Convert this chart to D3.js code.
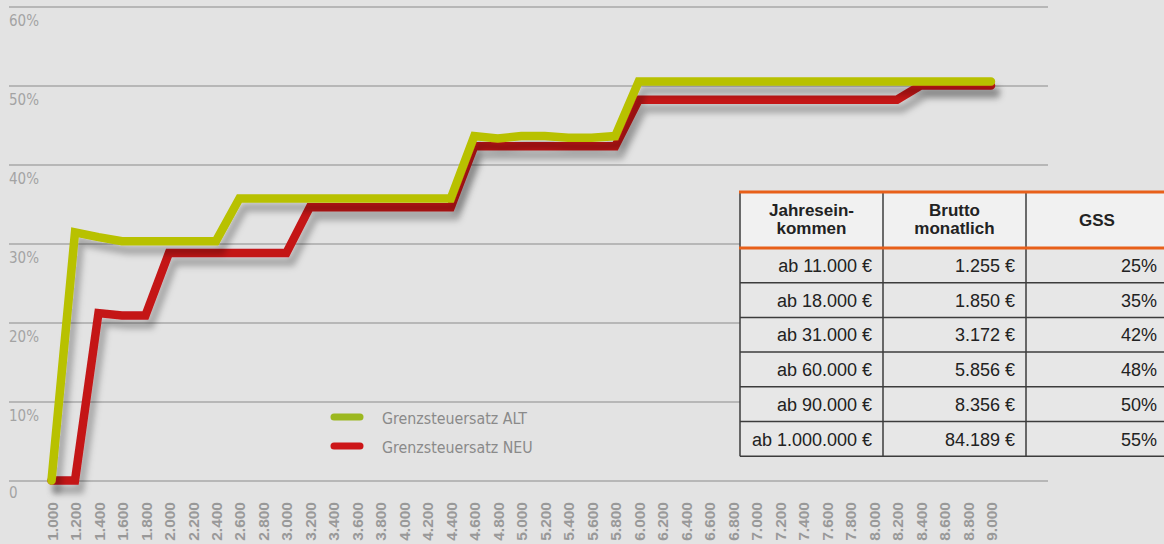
<!DOCTYPE html>
<html>
<head>
<meta charset="utf-8">
<script src="https://cdn.jsdelivr.net/npm/d3@7"></script>
<style>
  body { margin: 0; background: #e3e3e3; overflow: hidden; }
  svg { display: block; }
  .table-text { font-family: "Liberation Sans", Arial, sans-serif; }
</style>
</head>
<body>
<div id="chart"></div>
<script>
/* x-Achse: Brutto monatlich */
const xLabels = ["1.000","1.200","1.400","1.600","1.800","2.000","2.200","2.400","2.600","2.800",
  "3.000","3.200","3.400","3.600","3.800","4.000","4.200","4.400","4.600","4.800",
  "5.000","5.200","5.400","5.600","5.800","6.000","6.200","6.400","6.600","6.800",
  "7.000","7.200","7.400","7.600","7.800","8.000","8.200","8.400","8.600","8.800","9.000"];

/* Grenzsteuersatz in % */
const alt = [0, 31.4, 30.8, 30.3, 30.3, 30.3, 30.3, 30.3, 35.7, 35.7,
  35.7, 35.7, 35.7, 35.7, 35.7, 35.7, 35.7, 35.7, 43.6, 43.3,
  43.6, 43.6, 43.4, 43.4, 43.6, 50.5, 50.5, 50.5, 50.5, 50.5,
  50.5, 50.5, 50.5, 50.5, 50.5, 50.5, 50.5, 50.5, 50.5, 50.5, 50.5];
const neu = [0, 0, 21.2, 20.9, 20.9, 28.8, 28.8, 28.8, 28.8, 28.8,
  28.8, 34.6, 34.6, 34.6, 34.6, 34.6, 34.6, 34.6, 42.3, 42.3,
  42.3, 42.3, 42.3, 42.3, 42.3, 48.2, 48.2, 48.2, 48.2, 48.2,
  48.2, 48.2, 48.2, 48.2, 48.2, 48.2, 48.2, 50.0, 50.0, 50.0, 50.0];

const yTicks = [0, 10, 20, 30, 40, 50, 60];

/* Tabelle */
const tableHead = [["Jahresein-", "kommen"], ["Brutto", "monatlich"], ["GSS"]];
const incomes = ["ab 11.000 €", "ab 18.000 €", "ab 31.000 €", "ab 60.000 €", "ab 90.000 €", "ab 1.000.000 €"];
const gross = ["1.255 €", "1.850 €", "3.172 €", "5.856 €", "8.356 €", "84.189 €"];
const gss = ["25%", "35%", "42%", "48%", "50%", "55%"];

const legendItems = [
  { label: "Grenzsteuersatz ALT", color: "#9cb820" },
  { label: "Grenzsteuersatz NEU", color: "#cc1618" }
];

const w = 1164, h = 544;

const svg = d3.select("#chart").append("svg")
  .attr("width", w)
  .attr("height", h);

svg.append("rect").attr("width", w).attr("height", h).attr("fill", "#e3e3e3");

/* Schatten */
const defs = svg.append("defs");
const shadow = defs.append("filter").attr("id", "shadow")
  .attr("x", "-10%").attr("y", "-10%").attr("width", "130%").attr("height", "130%");
shadow.append("feDropShadow")
  .attr("dx", 5).attr("dy", 9).attr("stdDeviation", 3)
  .attr("flood-color", "#000").attr("flood-opacity", 0.27);

const blur = defs.append("filter").attr("id", "blur")
  .attr("x", "-50%").attr("y", "-200%").attr("width", "200%").attr("height", "500%");
blur.append("feGaussianBlur").attr("stdDeviation", 2.5);

/* Skalen */
const x = d3.scalePoint().domain(xLabels).range([51.5, 991]);
const y = d3.scaleLinear().domain([0, 60]).range([480.5, 6.5]);

/* y-Achse mit Gitterlinien */
const yAxis = d3.axisRight(y)
  .tickValues(yTicks)
  .tickSize(1039)
  .tickFormat(d => d === 0 ? "0" : d + "%");

const gy = svg.append("g")
  .attr("transform", "translate(9,0)")
  .call(yAxis);
gy.select(".domain").remove();
gy.selectAll(".tick line").attr("stroke", "#a9a9a9").attr("stroke-width", 1.6);
gy.selectAll(".tick text")
  .attr("x", 0)
  .attr("dy", d => d === 0 ? 17 : 19)
  .attr("text-anchor", "start")
  .attr("fill", "#a3a3a3")
  .style("font-family", "'DejaVu Sans Condensed', 'Liberation Sans Narrow', sans-serif")
  .style("font-size", "15px");

/* x-Achse */
const xAxis = d3.axisBottom(x).tickSize(0).tickPadding(0);
const gx = svg.append("g")
  .attr("transform", "translate(0,502)")
  .call(xAxis);
gx.select(".domain").remove();
gx.selectAll(".tick text")
  .attr("transform", "rotate(-90)")
  .attr("x", 0)
  .attr("y", 0)
  .attr("dy", "0.36em")
  .attr("text-anchor", "end")
  .attr("fill", "#999")
  .style("font-family", "'Liberation Sans', Arial, sans-serif")
  .style("font-weight", "bold")
  .style("font-size", "15.5px");

/* Linien */
const line = d3.line()
  .x((d, i) => x(xLabels[i]))
  .y(d => y(d));

const series = [
  { values: neu, color: "#c41519" },
  { values: alt, color: "#b8c100" }
];

svg.append("g")
  .selectAll("path")
  .data(series)
  .join("path")
  .attr("d", s => line(s.values))
  .attr("fill", "none")
  .attr("stroke", s => s.color)
  .attr("stroke-width", 8.5)
  .attr("stroke-linejoin", "miter")
  .attr("stroke-linecap", "round")
  .attr("filter", "url(#shadow)");

/* Legende */
const legend = svg.append("g").attr("transform", "translate(334,417)");
const li = legend.selectAll("g")
  .data(legendItems)
  .join("g")
  .attr("transform", (d, i) => `translate(0,${i * 29})`);
li.append("line")
  .attr("x1", 7).attr("x2", 32).attr("y1", 15).attr("y2", 15)
  .attr("stroke", "#a0a0a0").attr("stroke-width", 7)
  .attr("stroke-linecap", "round")
  .attr("filter", "url(#blur)");
li.append("line")
  .attr("x1", 0).attr("x2", 26).attr("y1", 0).attr("y2", 0)
  .attr("stroke", d => d.color).attr("stroke-width", 7)
  .attr("stroke-linecap", "round");
li.append("text")
  .attr("x", 48)
  .attr("y", 7)
  .attr("fill", "#8a8a8a")
  .style("font-family", "'DejaVu Sans Condensed', 'Liberation Sans Narrow', sans-serif")
  .style("font-size", "15.8px")
  .text(d => d.label);

/* Tabelle */
const colX = [740, 883, 1026, 1168];
const headTop = 192, headBottom = 248;
const rowH = 34.7;

const tbl = svg.append("g").attr("class", "table-text");

tbl.append("rect")
  .attr("x", colX[0]).attr("y", headTop)
  .attr("width", colX[3] - colX[0]).attr("height", headBottom - headTop)
  .attr("fill", "#f1f1f1");
tbl.append("rect")
  .attr("x", colX[0]).attr("y", headBottom)
  .attr("width", colX[3] - colX[0]).attr("height", rowH * incomes.length)
  .attr("fill", "#e7e7e7");

/* Kopfzeile */
tableHead.forEach((lines, c) => {
  const cx = (colX[c] + colX[c + 1]) / 2;
  const t = tbl.append("text")
    .attr("x", cx)
    .attr("text-anchor", "middle")
    .attr("font-weight", "bold")
    .attr("fill", "#222")
    .style("font-size", "17px");
  const y0 = lines.length === 2 ? 216 : 226;
  lines.forEach((l, k) => {
    t.append("tspan").attr("x", cx).attr("y", y0 + k * 18).text(l);
  });
});

/* Zeilen */
const cols = [incomes, gross, gss];
cols.forEach((vals, c) => {
  tbl.selectAll(null)
    .data(vals)
    .join("text")
    .attr("x", colX[c + 1] - 11)
    .attr("y", (d, i) => headBottom + i * rowH + 24)
    .attr("text-anchor", "end")
    .attr("fill", "#222")
    .style("font-size", "18px")
    .text(d => d);
});

/* Gitter der Tabelle */
const bodyBottom = headBottom + rowH * incomes.length;
d3.range(incomes.length).slice(1).forEach(i => {
  tbl.append("line")
    .attr("x1", colX[0]).attr("x2", colX[3])
    .attr("y1", headBottom + i * rowH).attr("y2", headBottom + i * rowH)
    .attr("stroke", "#3c3c3c").attr("stroke-width", 1.5);
});
colX.forEach((cx, c) => {
  tbl.append("line")
    .attr("x1", cx).attr("x2", cx)
    .attr("y1", headTop).attr("y2", bodyBottom)
    .attr("stroke", "#3c3c3c").attr("stroke-width", 1.5);
});
tbl.append("line")
  .attr("x1", colX[0]).attr("x2", colX[3])
  .attr("y1", bodyBottom).attr("y2", bodyBottom)
  .attr("stroke", "#3c3c3c").attr("stroke-width", 1.5);
[headTop, headBottom].forEach(yy => {
  tbl.append("line")
    .attr("x1", colX[0] - 1).attr("x2", colX[3])
    .attr("y1", yy).attr("y2", yy)
    .attr("stroke", "#e8601a").attr("stroke-width", 3);
});
</script>
</body>
</html>
